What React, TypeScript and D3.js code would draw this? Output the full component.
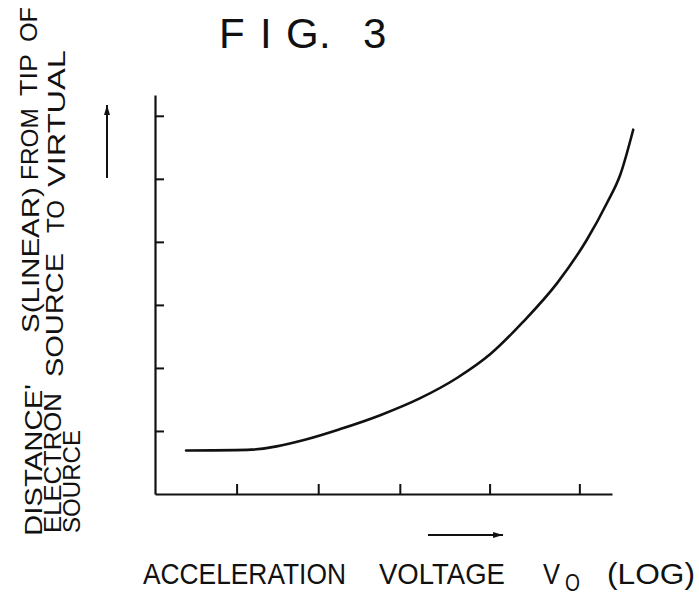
import React, { useRef, useEffect } from "react";
import * as d3 from "d3";

// acceleration voltage, in decades (log axis)
const voltageLog = [0.38, 1.13, 1.86, 2.27, 2.76, 3.25, 3.7, 4.11, 4.51, 4.93, 5.29, 5.54, 5.7, 5.86];
// distance S from tip of electron source to virtual source (linear, arbitrary units)
const distance = [0.69, 0.7, 0.87, 1.03, 1.25, 1.52, 1.84, 2.22, 2.73, 3.35, 4.03, 4.62, 5.06, 5.78];

const xTicks = [1, 2, 3, 4.1, 5.2];
const yTicks = [1, 2, 3, 4, 5, 6];

const xDomain = [0, 5.6];
const yDomain = [0, 6.33];

const FONT = "'Liberation Sans', Arial, sans-serif";

const Chart = () => {
  const svgRef = useRef<SVGSVGElement>(null);

  useEffect(() => {
    const svg = d3.select(svgRef.current);
    svg.selectAll("*").remove();

    const width = 699;
    const height = 596;
    const margin = { top: 95, right: 87, bottom: 102, left: 155 };

    const xScale = d3
      .scaleLinear()
      .domain(xDomain)
      .range([margin.left, width - margin.right]);

    const yScale = d3
      .scaleLinear()
      .domain(yDomain)
      .range([height - margin.bottom, margin.top]);

    svg.append("rect").attr("width", width).attr("height", height).attr("fill", "white");

    // axes (ticks point into the plot, no labels)
    const xAxis = svg
      .append("g")
      .attr("transform", `translate(0,${height - margin.bottom})`)
      .call(d3.axisTop(xScale).tickValues(xTicks).tickSize(10).tickSizeOuter(0).tickFormat(() => ""));

    const yAxis = svg
      .append("g")
      .attr("transform", `translate(${margin.left},0)`)
      .call(d3.axisRight(yScale).tickValues(yTicks).tickSize(9).tickSizeOuter(0).tickFormat(() => ""));

    [xAxis, yAxis].forEach((ax) => {
      ax.select(".domain").attr("stroke", "#111").attr("stroke-width", 2.2);
      ax.selectAll(".tick line").attr("stroke", "#111").attr("stroke-width", 2);
    });

    const points = voltageLog.map((v, i) => ({ v, s: distance[i] }));

    const line = d3
      .line<{ v: number; s: number }>()
      .x((d) => xScale(d.v))
      .y((d) => yScale(d.s))
      .curve(d3.curveMonotoneX);

    svg
      .append("path")
      .datum(points)
      .attr("fill", "none")
      .attr("stroke", "#111")
      .attr("stroke-width", 2.6)
      .attr("stroke-linecap", "round")
      .attr("d", line);

    // title
    const title = svg
      .append("text")
      .attr("y", 48)
      .attr("font-family", FONT)
      .attr("font-size", 42)
      .attr("fill", "#111");
    [
      ["F", 219],
      ["I", 260],
      ["G", 286],
      [".", 319],
      ["3", 363],
    ].forEach(([t, x]) => title.append("tspan").attr("x", x).text(t as string));

    // arrows
    svg
      .append("defs")
      .append("marker")
      .attr("id", "head")
      .attr("viewBox", "0 0 10 6")
      .attr("refX", 10)
      .attr("refY", 3)
      .attr("markerWidth", 10)
      .attr("markerHeight", 6)
      .attr("markerUnits", "userSpaceOnUse")
      .attr("orient", "auto")
      .append("path")
      .attr("d", "M0,0L10,3L0,6Z")
      .attr("fill", "#111");

    svg
      .append("line")
      .attr("x1", 107)
      .attr("y1", 178)
      .attr("x2", 107)
      .attr("y2", 105)
      .attr("stroke", "#111")
      .attr("stroke-width", 2)
      .attr("marker-end", "url(#head)");

    svg
      .append("line")
      .attr("x1", 428)
      .attr("y1", 535)
      .attr("x2", 503)
      .attr("y2", 535)
      .attr("stroke", "#111")
      .attr("stroke-width", 2)
      .attr("marker-end", "url(#head)");

    // hand lettering: squeeze/stretch each word to the length it has in the figure
    const word = (t: string, x: number, y: number, len: number, size: number, vertical = false) => {
      const el = svg
        .append("text")
        .attr("font-family", FONT)
        .attr("font-size", size)
        .attr("fill", "#111")
        .text(t);
      const natural = (el.node() as SVGTextElement).getComputedTextLength() || len;
      const sx = len / natural;
      el.attr("transform", `translate(${x},${y})${vertical ? " rotate(-90)" : ""} scale(${sx},1)`);
    };

    // x label
    word("ACCELERATION", 143, 584, 203, 30);
    word("VOLTAGE", 379, 584, 126, 30);
    word("V", 543, 584, 17, 30);
    word("O", 565, 591, 15, 24);
    word("(LOG)", 607, 584, 88, 30);

    // y label (reads bottom to top)
    word("DISTANCE'", 42, 536, 152, 23, true);
    word("S(LINEAR)", 39, 333, 146, 23, true);
    word("FROM", 38, 180, 72, 23, true);
    word("TIP", 37, 96, 42, 23, true);
    word("OF", 37, 42, 35, 23, true);

    word("ELECTRON", 61, 533, 140, 23, true);
    word("SOURCE", 63, 377, 124, 23, true);
    word("TO", 64, 233, 33, 23, true);
    word("VIRTUAL", 65, 187, 137, 23, true);

    word("SOURCE", 80, 533, 103, 23, true);
  }, []);

  return <svg width={699} height={596} ref={svgRef} style={{ position: "absolute", left: 0, top: 0 }}></svg>;
};

export default function App() {
  return <Chart />;
}
